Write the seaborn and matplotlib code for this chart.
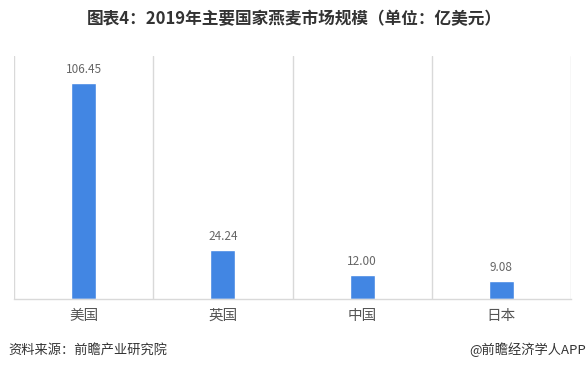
import matplotlib
matplotlib.use("Agg")
import matplotlib.pyplot as plt
import seaborn as sns
import pandas as pd

categories = ["美国", "英国", "中国", "日本"]
values = [106.45, 24.24, 12.00, 9.08]
value_labels = ["106.45", "24.24", "12.00", "9.08"]

title = "图表4：2019年主要国家燕麦市场规模（单位：亿美元）"
source = "资料来源：前瞻产业研究院"
credit = "@前瞻经济学人APP"

sns.set_theme(style="white")
plt.rcParams['font.family'] = ['Noto Sans CJK SC', 'DejaVu Sans']

df = pd.DataFrame({"country": categories, "value": values})

fig = plt.figure(figsize=(5.88, 3.70), dpi=100)
ax = fig.add_axes([14/588, 1 - 299/370, (571 - 14)/588, (299 - 56)/370])

sns.barplot(data=df, x="country", y="value", ax=ax, color="#4286E3",
            width=0.18, saturation=1)

ax.set_ylim(0, 120)
ax.set_xlim(-0.5, 3.5)
ax.set_xlabel("")
ax.set_ylabel("")
ax.set_yticks([])
for s in ["top", "left", "right"]:
    ax.spines[s].set_visible(False)
ax.spines["bottom"].set_color("#d9d9d9")
ax.spines["bottom"].set_linewidth(1.0)
for xb in [-0.5, 0.5, 1.5, 2.5, 3.5]:
    ax.axvline(xb, color="#d9d9d9", lw=1.0, zorder=0)
ax.tick_params(axis="x", length=0, pad=7, labelsize=10.5, labelcolor="#555555")

for i, (v, lab) in enumerate(zip(values, value_labels)):
    ax.text(i, v + 3.5, lab, ha="center", va="bottom", fontsize=8.5, color="#666666")

fig.text(0.5, 1 - 19/370, title, ha="center", va="center", fontsize=12,
         fontweight="bold", color="#333333")
fig.text(8/588, 1 - 350/370, source, ha="left", va="center", fontsize=9.5, color="#333333")
fig.text(586/588, 1 - 350/370, credit, ha="right", va="center", fontsize=9.5, color="#333333")

fig.savefig("out.png", dpi=100)
